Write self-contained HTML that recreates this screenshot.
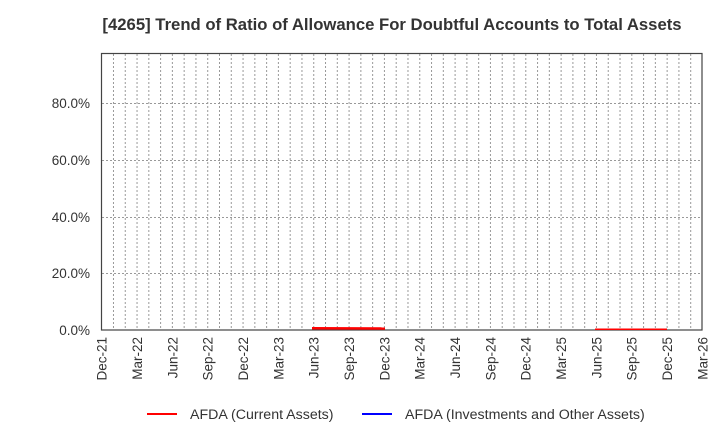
<!DOCTYPE html>
<html><head><meta charset="utf-8"><style>body{margin:0;background:#fff}</style></head><body>
<svg width="720" height="440" xmlns="http://www.w3.org/2000/svg" font-family="Liberation Sans, sans-serif">
<rect width="720" height="440" fill="#fff"/>
<text x="392" y="30" text-anchor="middle" font-size="16.7" font-weight="bold" fill="#333">[4265]  Trend of Ratio of Allowance For Doubtful Accounts to Total Assets</text>
<g id="grid" stroke="#999" stroke-width="1" stroke-dasharray="2,2" fill="none"></g>
<g stroke="#999" stroke-dasharray="2,2">
<line x1="102" x2="702" y1="103.5" y2="103.5"/>
<line x1="102" x2="702" y1="160.5" y2="160.5"/>
<line x1="102" x2="702" y1="217.5" y2="217.5"/>
<line x1="102" x2="702" y1="273.5" y2="273.5"/>
</g>
<rect x="101.5" y="53.5" width="600.5" height="276.5" fill="none" stroke="#444" stroke-width="1.2"/>
<g font-size="13.5" fill="#333" text-anchor="end">
<text x="90" y="108">80.0%</text><text x="90" y="165">60.0%</text><text x="90" y="222">40.0%</text><text x="90" y="278">20.0%</text><text x="90" y="335">0.0%</text>
</g>
<g id="xl" font-size="13.5" fill="#333" text-anchor="end"></g>
<line x1="312" y1="328.3" x2="385" y2="328.5" stroke="#f00" stroke-width="2.5"/>
<line x1="595" y1="329.3" x2="667" y2="329.3" stroke="#f00" stroke-width="1.5"/>
<line x1="147" y1="414" x2="177" y2="414" stroke="#f00" stroke-width="2"/>
<text x="190" y="419" font-size="14.2" fill="#333">AFDA (Current Assets)</text>
<line x1="362" y1="414" x2="392" y2="414" stroke="#00f" stroke-width="2"/>
<text x="405" y="419" font-size="14.2" fill="#333">AFDA (Investments and Other Assets)</text>
</svg>
<script>
var g=document.getElementById('grid'),xl=document.getElementById('xl'),ns='http://www.w3.org/2000/svg';
for(var k=1;k<51;k++){var x=101.7+k*11.78;var l=document.createElementNS(ns,'line');l.setAttribute('x1',x);l.setAttribute('x2',x);l.setAttribute('y1',54);l.setAttribute('y2',330);g.appendChild(l);}
var m=['Dec','Mar','Jun','Sep'];
for(var q=0;q<=17;q++){var x=101.7+q*35.33;var yr=21+Math.floor((q+3)/4);var t=document.createElementNS(ns,'text');t.setAttribute('transform','translate('+(x+5)+',337) rotate(-90)');t.textContent=m[q%4]+'-'+yr;xl.appendChild(t);}
</script>
</body></html>
